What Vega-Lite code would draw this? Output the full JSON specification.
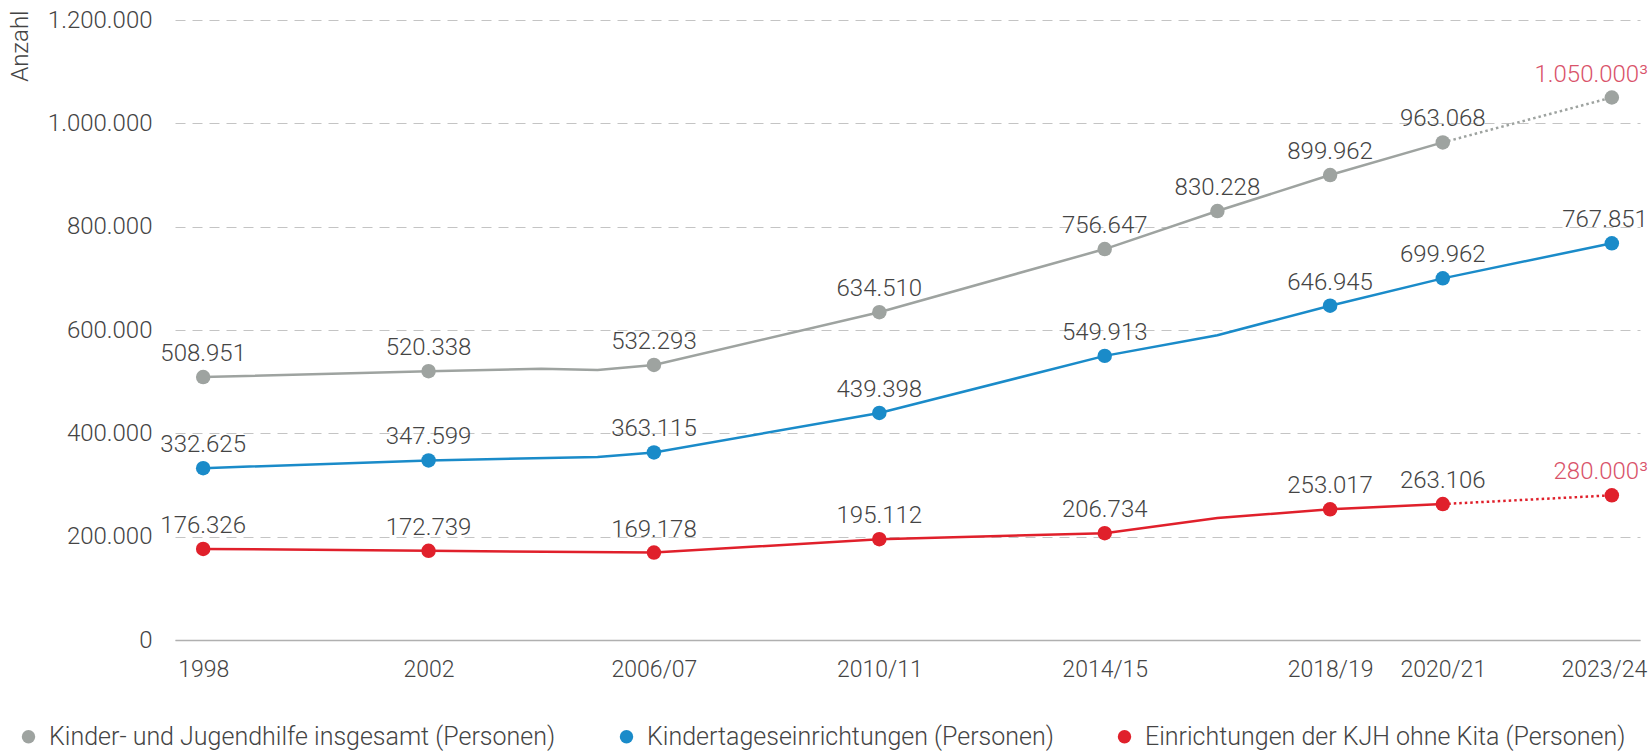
{
  "$schema": "https://vega.github.io/schema/vega-lite/v6.json",
  "width": 1465,
  "height": 620,
  "autosize": {"type": "none"},
  "padding": {"left": 175, "top": 20, "right": 12, "bottom": 115},
  "background": "white",
  "config": {
    "view": {"stroke": null},
    "font": "Roboto",
    "locale": {"number": {"decimal": ",", "thousands": ".", "grouping": [3], "currency": ["", " €"]}}
  },
  "data": {
    "values": [
      {"reihe": "Kinder- und Jugendhilfe insgesamt (Personen)", "jahr": 1998, "wert": 508951, "label": "508.951", "punkt": true, "proj": false},
      {"reihe": "Kinder- und Jugendhilfe insgesamt (Personen)", "jahr": 2002, "wert": 520338, "label": "520.338", "punkt": true, "proj": false},
      {"reihe": "Kinder- und Jugendhilfe insgesamt (Personen)", "jahr": 2004, "wert": 525000, "label": "", "punkt": false, "proj": false},
      {"reihe": "Kinder- und Jugendhilfe insgesamt (Personen)", "jahr": 2005, "wert": 522500, "label": "", "punkt": false, "proj": false},
      {"reihe": "Kinder- und Jugendhilfe insgesamt (Personen)", "jahr": 2006, "wert": 532293, "label": "532.293", "punkt": true, "proj": false},
      {"reihe": "Kinder- und Jugendhilfe insgesamt (Personen)", "jahr": 2010, "wert": 634510, "label": "634.510", "punkt": true, "proj": false},
      {"reihe": "Kinder- und Jugendhilfe insgesamt (Personen)", "jahr": 2014, "wert": 756647, "label": "756.647", "punkt": true, "proj": false},
      {"reihe": "Kinder- und Jugendhilfe insgesamt (Personen)", "jahr": 2016, "wert": 830228, "label": "830.228", "punkt": true, "proj": false},
      {"reihe": "Kinder- und Jugendhilfe insgesamt (Personen)", "jahr": 2018, "wert": 899962, "label": "899.962", "punkt": true, "proj": false},
      {"reihe": "Kinder- und Jugendhilfe insgesamt (Personen)", "jahr": 2020, "wert": 963068, "label": "963.068", "punkt": true, "proj": false},
      {"reihe": "Kinder- und Jugendhilfe insgesamt (Personen)", "jahr": 2023, "wert": 1050000, "label": "1.050.000³", "punkt": true, "proj": true},
      {"reihe": "Kindertageseinrichtungen (Personen)", "jahr": 1998, "wert": 332625, "label": "332.625", "punkt": true, "proj": false},
      {"reihe": "Kindertageseinrichtungen (Personen)", "jahr": 2002, "wert": 347599, "label": "347.599", "punkt": true, "proj": false},
      {"reihe": "Kindertageseinrichtungen (Personen)", "jahr": 2005, "wert": 354000, "label": "", "punkt": false, "proj": false},
      {"reihe": "Kindertageseinrichtungen (Personen)", "jahr": 2006, "wert": 363115, "label": "363.115", "punkt": true, "proj": false},
      {"reihe": "Kindertageseinrichtungen (Personen)", "jahr": 2010, "wert": 439398, "label": "439.398", "punkt": true, "proj": false},
      {"reihe": "Kindertageseinrichtungen (Personen)", "jahr": 2014, "wert": 549913, "label": "549.913", "punkt": true, "proj": false},
      {"reihe": "Kindertageseinrichtungen (Personen)", "jahr": 2016, "wert": 590000, "label": "", "punkt": false, "proj": false},
      {"reihe": "Kindertageseinrichtungen (Personen)", "jahr": 2018, "wert": 646945, "label": "646.945", "punkt": true, "proj": false},
      {"reihe": "Kindertageseinrichtungen (Personen)", "jahr": 2020, "wert": 699962, "label": "699.962", "punkt": true, "proj": false},
      {"reihe": "Kindertageseinrichtungen (Personen)", "jahr": 2023, "wert": 767851, "label": "767.851", "punkt": true, "proj": false},
      {"reihe": "Einrichtungen der KJH ohne Kita (Personen)", "jahr": 1998, "wert": 176326, "label": "176.326", "punkt": true, "proj": false},
      {"reihe": "Einrichtungen der KJH ohne Kita (Personen)", "jahr": 2002, "wert": 172739, "label": "172.739", "punkt": true, "proj": false},
      {"reihe": "Einrichtungen der KJH ohne Kita (Personen)", "jahr": 2006, "wert": 169178, "label": "169.178", "punkt": true, "proj": false},
      {"reihe": "Einrichtungen der KJH ohne Kita (Personen)", "jahr": 2010, "wert": 195112, "label": "195.112", "punkt": true, "proj": false},
      {"reihe": "Einrichtungen der KJH ohne Kita (Personen)", "jahr": 2014, "wert": 206734, "label": "206.734", "punkt": true, "proj": false},
      {"reihe": "Einrichtungen der KJH ohne Kita (Personen)", "jahr": 2016, "wert": 236000, "label": "", "punkt": false, "proj": false},
      {"reihe": "Einrichtungen der KJH ohne Kita (Personen)", "jahr": 2018, "wert": 253017, "label": "253.017", "punkt": true, "proj": false},
      {"reihe": "Einrichtungen der KJH ohne Kita (Personen)", "jahr": 2020, "wert": 263106, "label": "263.106", "punkt": true, "proj": false},
      {"reihe": "Einrichtungen der KJH ohne Kita (Personen)", "jahr": 2023, "wert": 280000, "label": "280.000³", "punkt": true, "proj": true}
    ]
  },
  "encoding": {
    "x": {
      "field": "jahr",
      "type": "quantitative",
      "scale": {"domain": [1997.5, 2023.5], "nice": false, "zero": false},
      "axis": {
        "title": null,
        "values": [1998, 2002, 2006, 2010, 2014, 2018, 2020, 2023],
        "labelExpr": "datum.value <= 2002 ? '' + datum.value : datum.value + '/' + slice('' + (datum.value + 1), 2)",
        "labelFontSize": 23,
        "labelFontWeight": 300,
        "labelColor": "#444444",
        "labelPadding": 18,
        "labelOffset": {"condition": {"test": "datum.value == 2023", "value": -8}, "value": 0},
        "ticks": false,
        "grid": false,
        "domain": true,
        "domainColor": "#b0b0b0",
        "domainWidth": 1.5
      }
    },
    "y": {
      "field": "wert",
      "type": "quantitative",
      "scale": {"domain": [0, 1200000], "nice": false},
      "axis": {
        "title": "Anzahl",
        "titleFontSize": 24,
        "titleFontWeight": 300,
        "titleColor": "#444444",
        "titleAngle": 270,
        "titleX": -155,
        "titleY": -10,
        "titleAlign": "right",
        "titleBaseline": "middle",
        "values": [0, 200000, 400000, 600000, 800000, 1000000, 1200000],
        "format": ",d",
        "labelFontSize": 24,
        "labelFontWeight": 300,
        "labelColor": "#444444",
        "labelPadding": 23,
        "ticks": false,
        "domain": false,
        "grid": true,
        "gridColor": "#c4c4c4",
        "gridWidth": 1,
        "gridDash": {"condition": {"test": "datum.value === 0", "value": []}, "value": [10, 7]}
      }
    },
    "color": {
      "field": "reihe",
      "type": "nominal",
      "scale": {
        "domain": ["Kinder- und Jugendhilfe insgesamt (Personen)", "Kindertageseinrichtungen (Personen)", "Einrichtungen der KJH ohne Kita (Personen)"],
        "range": ["#9ea3a0", "#1a8bc9", "#e0202b"]
      },
      "legend": {
        "title": null,
        "orient": "none",
        "direction": "horizontal",
        "legendX": -159,
        "legendY": 704,
        "symbolType": "circle",
        "symbolSize": 180,
        "symbolStrokeWidth": 0,
        "symbolOpacity": 1,
        "labelFontSize": 25,
        "labelFontWeight": 300,
        "labelColor": "#444444",
        "labelLimit": 800,
        "labelOffset": 8,
        "columnPadding": 58
      }
    }
  },
  "layer": [
    {
      "transform": [{"filter": "!datum.proj"}],
      "mark": {"type": "line", "strokeWidth": 2.5},
      "encoding": {"order": {"field": "jahr", "type": "quantitative"}}
    },
    {
      "transform": [{"filter": "datum.jahr >= 2020 && datum.reihe != 'Kindertageseinrichtungen (Personen)'"}],
      "mark": {"type": "line", "strokeWidth": 2.5, "strokeDash": [2.5, 3]},
      "encoding": {"order": {"field": "jahr", "type": "quantitative"}}
    },
    {
      "transform": [{"filter": "datum.punkt"}],
      "mark": {"type": "circle", "size": 210, "opacity": 1}
    },
    {
      "transform": [{"filter": "datum.punkt && datum.jahr < 2023"}],
      "mark": {"type": "text", "fontSize": 24, "fontWeight": 300, "baseline": "alphabetic", "dy": -16},
      "encoding": {
        "text": {"field": "label"},
        "color": {"value": "#444444"}
      }
    },
    {
      "transform": [{"filter": "datum.jahr == 2023"}],
      "mark": {"type": "text", "fontSize": 24, "fontWeight": 300, "baseline": "alphabetic", "align": "right", "dy": -16, "dx": 36},
      "encoding": {
        "text": {"field": "label"},
        "color": {"condition": {"test": "datum.proj", "value": "#d9536a"}, "value": "#444444"}
      }
    }
  ]
}
